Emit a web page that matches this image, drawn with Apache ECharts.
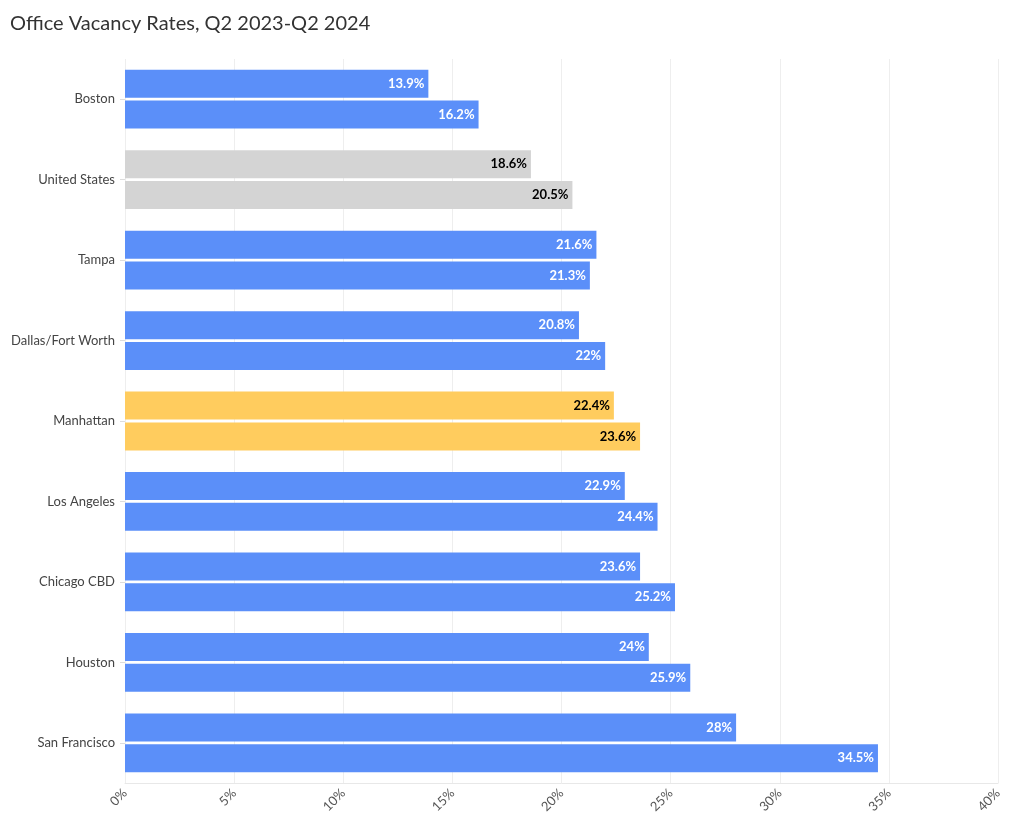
<!DOCTYPE html>
<html>
<head>
<meta charset="utf-8">
<script src="https://cdn.jsdelivr.net/npm/echarts@6/dist/echarts.min.js"></script>
<style>
  html, body { margin: 0; padding: 0; background: #fff; }
  #main { width: 1020px; height: 836px; }
</style>
</head>
<body>
<div id="main"></div>
<script>
// 数据
var cities = ["Boston", "United States", "Tampa", "Dallas/Fort Worth", "Manhattan",
  "Los Angeles", "Chicago CBD", "Houston", "San Francisco"];
var q2_2023 = [13.9, 18.6, 21.6, 20.8, 22.4, 22.9, 23.6, 24, 28];
var q2_2024 = [16.2, 20.5, 21.3, 22, 23.6, 24.4, 25.2, 25.9, 34.5];
var xTicks = [0, 5, 10, 15, 20, 25, 30, 35, 40];

// 颜色: 美国灰色, 曼哈顿黄色, 其他蓝色
function barColor(name) {
  if (name === "United States") return "#d4d4d4";
  if (name === "Manhattan") return "#ffcc5e";
  return "#5b8ff9";
}
function toData(values) {
  return values.map(function (v, i) {
    var dark = barColor(cities[i]) !== "#5b8ff9";
    return {
      value: v,
      itemStyle: { color: barColor(cities[i]) },
      label: { color: dark ? "#000" : "#fff" }
    };
  });
}

(function () {
  var myChart = echarts.init(document.getElementById("main"));
  var font = "Lato, 'Noto Sans', sans-serif";
  var label = {
    show: true,
    position: "insideRight",
    fontWeight: "bold",
    fontSize: 13,
    fontFamily: font,
    distance: 4,
    formatter: function (p) { return p.value + "%"; }
  };
  var option = {
    animation: false,
    title: {
      text: "Office Vacancy Rates, Q2 2023-Q2 2024",
      left: 5,
      top: 9,
      textStyle: { fontFamily: font, fontWeight: "normal", fontSize: 20, color: "#333" }
    },
    grid: { left: 125, right: 22, top: 59, bottom: 53 },
    xAxis: {
      type: "value",
      min: xTicks[0],
      max: xTicks[xTicks.length - 1],
      interval: 5,
      axisLine: { show: true, lineStyle: { color: "#e8e8e8" } },
      axisTick: { show: false },
      splitLine: { lineStyle: { color: "#eeeeee" } },
      axisLabel: {
        rotate: 45,
        color: "#555",
        fontSize: 13,
        fontFamily: font,
        formatter: "{value}%"
      }
    },
    yAxis: {
      type: "category",
      inverse: true,
      data: cities,
      axisLine: { show: false },
      axisTick: { show: true, alignWithLabel: true, length: 5, lineStyle: { color: "#ddd" } },
      axisLabel: { color: "#444", fontSize: 13, fontFamily: font, margin: 10 }
    },
    series: [
      {
        name: "Q2 2023",
        type: "bar",
        data: toData(q2_2023),
        barWidth: 28,
        barGap: "10%",
        label: label
      },
      {
        name: "Q2 2024",
        type: "bar",
        data: toData(q2_2024),
        barWidth: 28,
        barGap: "10%",
        label: label
      }
    ]
  };
  myChart.setOption(option);
  window.addEventListener("resize", function () {
    myChart.resize();
  });
})();
</script>
</body>
</html>
